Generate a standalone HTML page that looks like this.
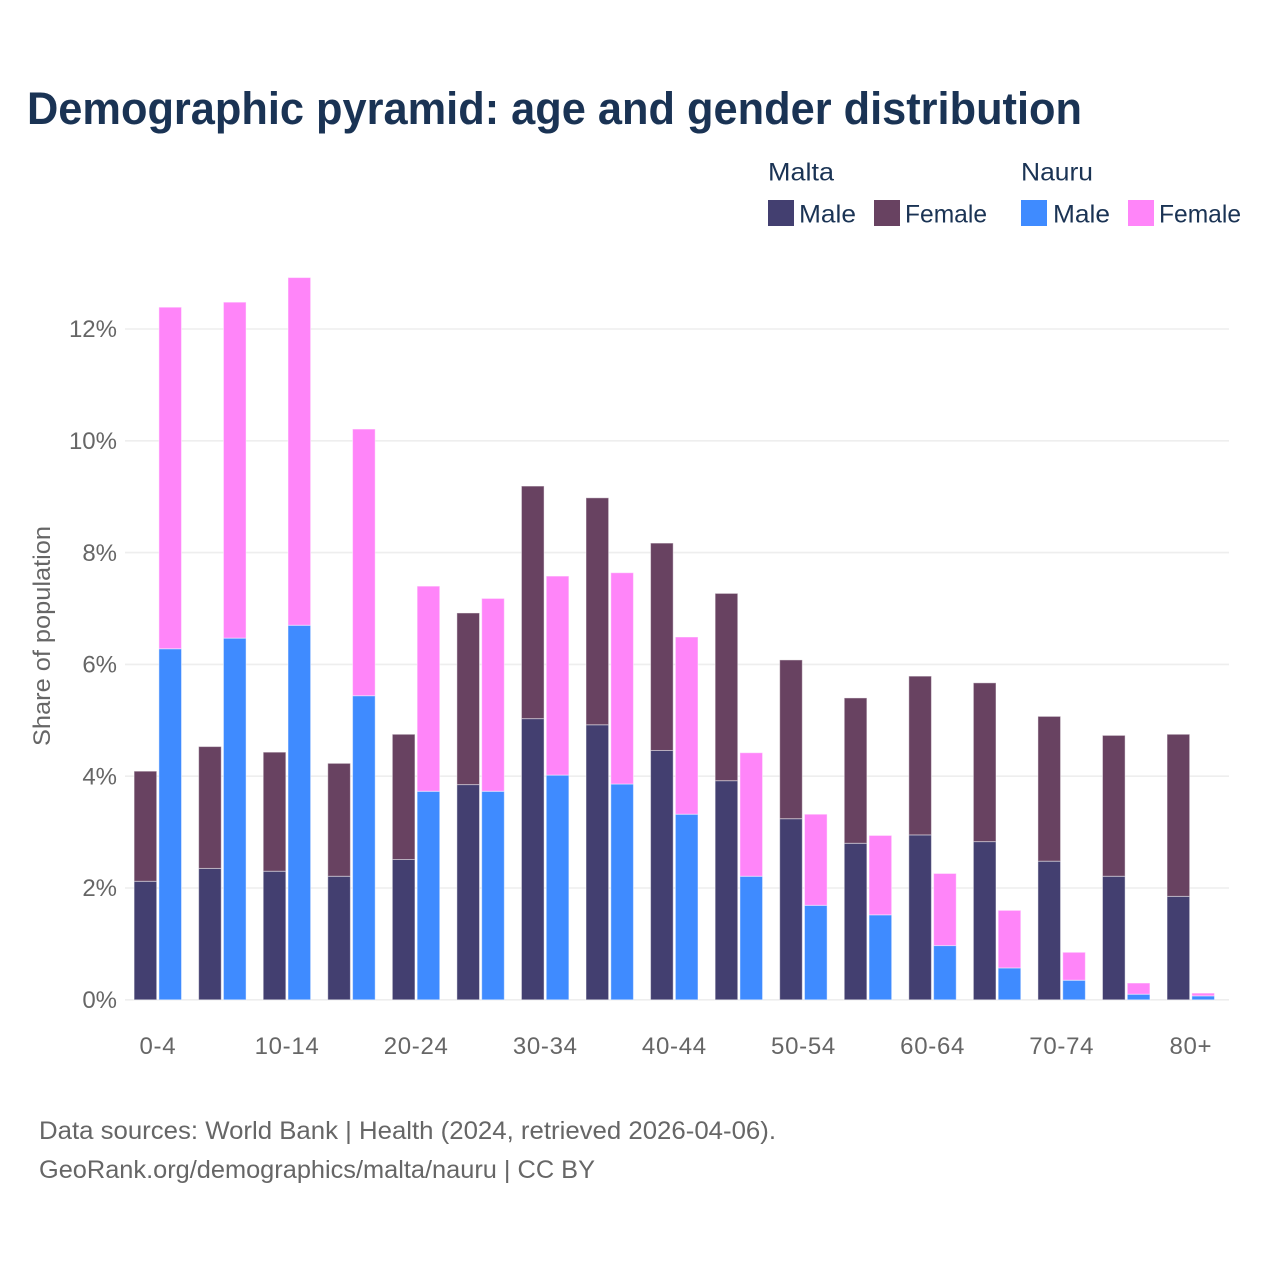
<!DOCTYPE html>
<html lang="en">
<head>
<meta charset="utf-8">
<title>Demographic pyramid</title>
<style>
html,body{margin:0;padding:0;background:#fff;}
svg{display:block;font-family:"Liberation Sans",sans-serif;}
</style>
</head>
<body>
<svg id="chart" xmlns="http://www.w3.org/2000/svg" width="1280" height="1280" viewBox="0 0 1280 1280">
<rect x="0" y="0" width="1280" height="1280" fill="#ffffff"/>
<text x="27" y="124" font-size="45" font-weight="700" fill="#1a3354" textLength="1055" lengthAdjust="spacingAndGlyphs">Demographic pyramid: age and gender distribution</text>
<g font-size="25" fill="#1a3354">
<text x="768" y="180.5" textLength="66" lengthAdjust="spacingAndGlyphs">Malta</text>
<text x="1021" y="180.5" textLength="72" lengthAdjust="spacingAndGlyphs">Nauru</text>
<rect x="768" y="200" width="26" height="26" fill="#433f70"/>
<text x="799" y="222.5" textLength="57" lengthAdjust="spacingAndGlyphs">Male</text>
<rect x="874" y="200" width="26" height="26" fill="#684261"/>
<text x="905" y="222.5" textLength="82" lengthAdjust="spacingAndGlyphs">Female</text>
<rect x="1021" y="200" width="26" height="26" fill="#3f8bff"/>
<text x="1053" y="222.5" textLength="57" lengthAdjust="spacingAndGlyphs">Male</text>
<rect x="1128" y="200" width="26" height="26" fill="#ff85f9"/>
<text x="1159" y="222.5" textLength="82" lengthAdjust="spacingAndGlyphs">Female</text>
</g>
<g id="grid"></g>
<g id="bars"></g>
<g id="y-ticks"></g>
<g id="x-ticks"></g>
<text transform="translate(50,636) rotate(-90)" text-anchor="middle" font-size="24" fill="#666666" textLength="220" lengthAdjust="spacingAndGlyphs">Share of population</text>
<text x="39" y="1139" font-size="25" fill="#666666" textLength="737" lengthAdjust="spacingAndGlyphs">Data sources: World Bank | Health (2024, retrieved 2026-04-06).</text>
<text x="39" y="1178" font-size="25" fill="#666666" textLength="556" lengthAdjust="spacingAndGlyphs">GeoRank.org/demographics/malta/nauru | CC BY</text>
</svg>
<script>
const ageGroups = ["0-4","5-9","10-14","15-19","20-24","25-29","30-34","35-39","40-44","45-49","50-54","55-59","60-64","65-69","70-74","75-79","80+"];
const xTickLabels = ["0-4","10-14","20-24","30-34","40-44","50-54","60-64","70-74","80+"];
const yTickValues = [0,2,4,6,8,10,12];
const maltaMale = [2.12,2.35,2.30,2.21,2.51,3.85,5.03,4.92,4.46,3.92,3.24,2.80,2.95,2.83,2.48,2.21,1.85];
const maltaFemale = [1.97,2.18,2.13,2.02,2.24,3.07,4.16,4.06,3.71,3.35,2.84,2.60,2.84,2.84,2.59,2.52,2.90];
const nauruMale = [6.28,6.47,6.70,5.44,3.73,3.73,4.02,3.86,3.32,2.21,1.69,1.52,0.97,0.57,0.35,0.10,0.07];
const nauruFemale = [6.11,6.01,6.22,4.77,3.67,3.45,3.56,3.78,3.17,2.21,1.63,1.42,1.29,1.03,0.50,0.20,0.05];

const NS = "http://www.w3.org/2000/svg";
const xCenter = function (i) { return 157.9 + i * 64.56; };
const yScale = function (v) { return 999.8 - v * 55.9; };
const BAR_W = 22.6;

function make(tag, attrs, parent) {
  const el = document.createElementNS(NS, tag);
  for (const k in attrs) el.setAttribute(k, attrs[k]);
  parent.appendChild(el);
  return el;
}

const gridG = document.getElementById("grid");
const yG = document.getElementById("y-ticks");
yTickValues.forEach(function (v) {
  const line = make("line", {x1:125, x2:1229, y1:yScale(v), y2:yScale(v), stroke:"#eeeeee", "stroke-width":1.6}, gridG);
  
  
  const t = make("text", {x:117, y:yScale(v)+8.2, "text-anchor":"end", "font-size":24, fill:"#666666"}, yG);
  t.textContent = v + "%";
  
  
});

const xG = document.getElementById("x-ticks");
xTickLabels.forEach(function (label) {
  const t = make("text", {x:xCenter(ageGroups.indexOf(label)), y:1054, "text-anchor":"middle", "font-size":24, "letter-spacing":0.7, fill:"#666666"}, xG);
  t.textContent = label;
  
  
});

const barsG = document.getElementById("bars");
function drawBar(x, base, value, color, name) {
  const top = yScale(base + value);
  const rect = make("rect", {x:x, y:top, width:BAR_W, height:yScale(base) - top, fill:color, stroke:"#ffffff", "stroke-opacity":0.45, "stroke-width":1}, barsG);
  
  
}
ageGroups.forEach(function (age, i) {
  const c = xCenter(i);
  drawBar(c - 23.8, 0, maltaMale[i], "#433f70", "bar-malta-male");
  drawBar(c - 23.8, maltaMale[i], maltaFemale[i], "#684261", "bar-malta-female");
  drawBar(c + 1, 0, nauruMale[i], "#3f8bff", "bar-nauru-male");
  drawBar(c + 1, nauruMale[i], nauruFemale[i], "#ff85f9", "bar-nauru-female");
});
</script>
</body>
</html>
